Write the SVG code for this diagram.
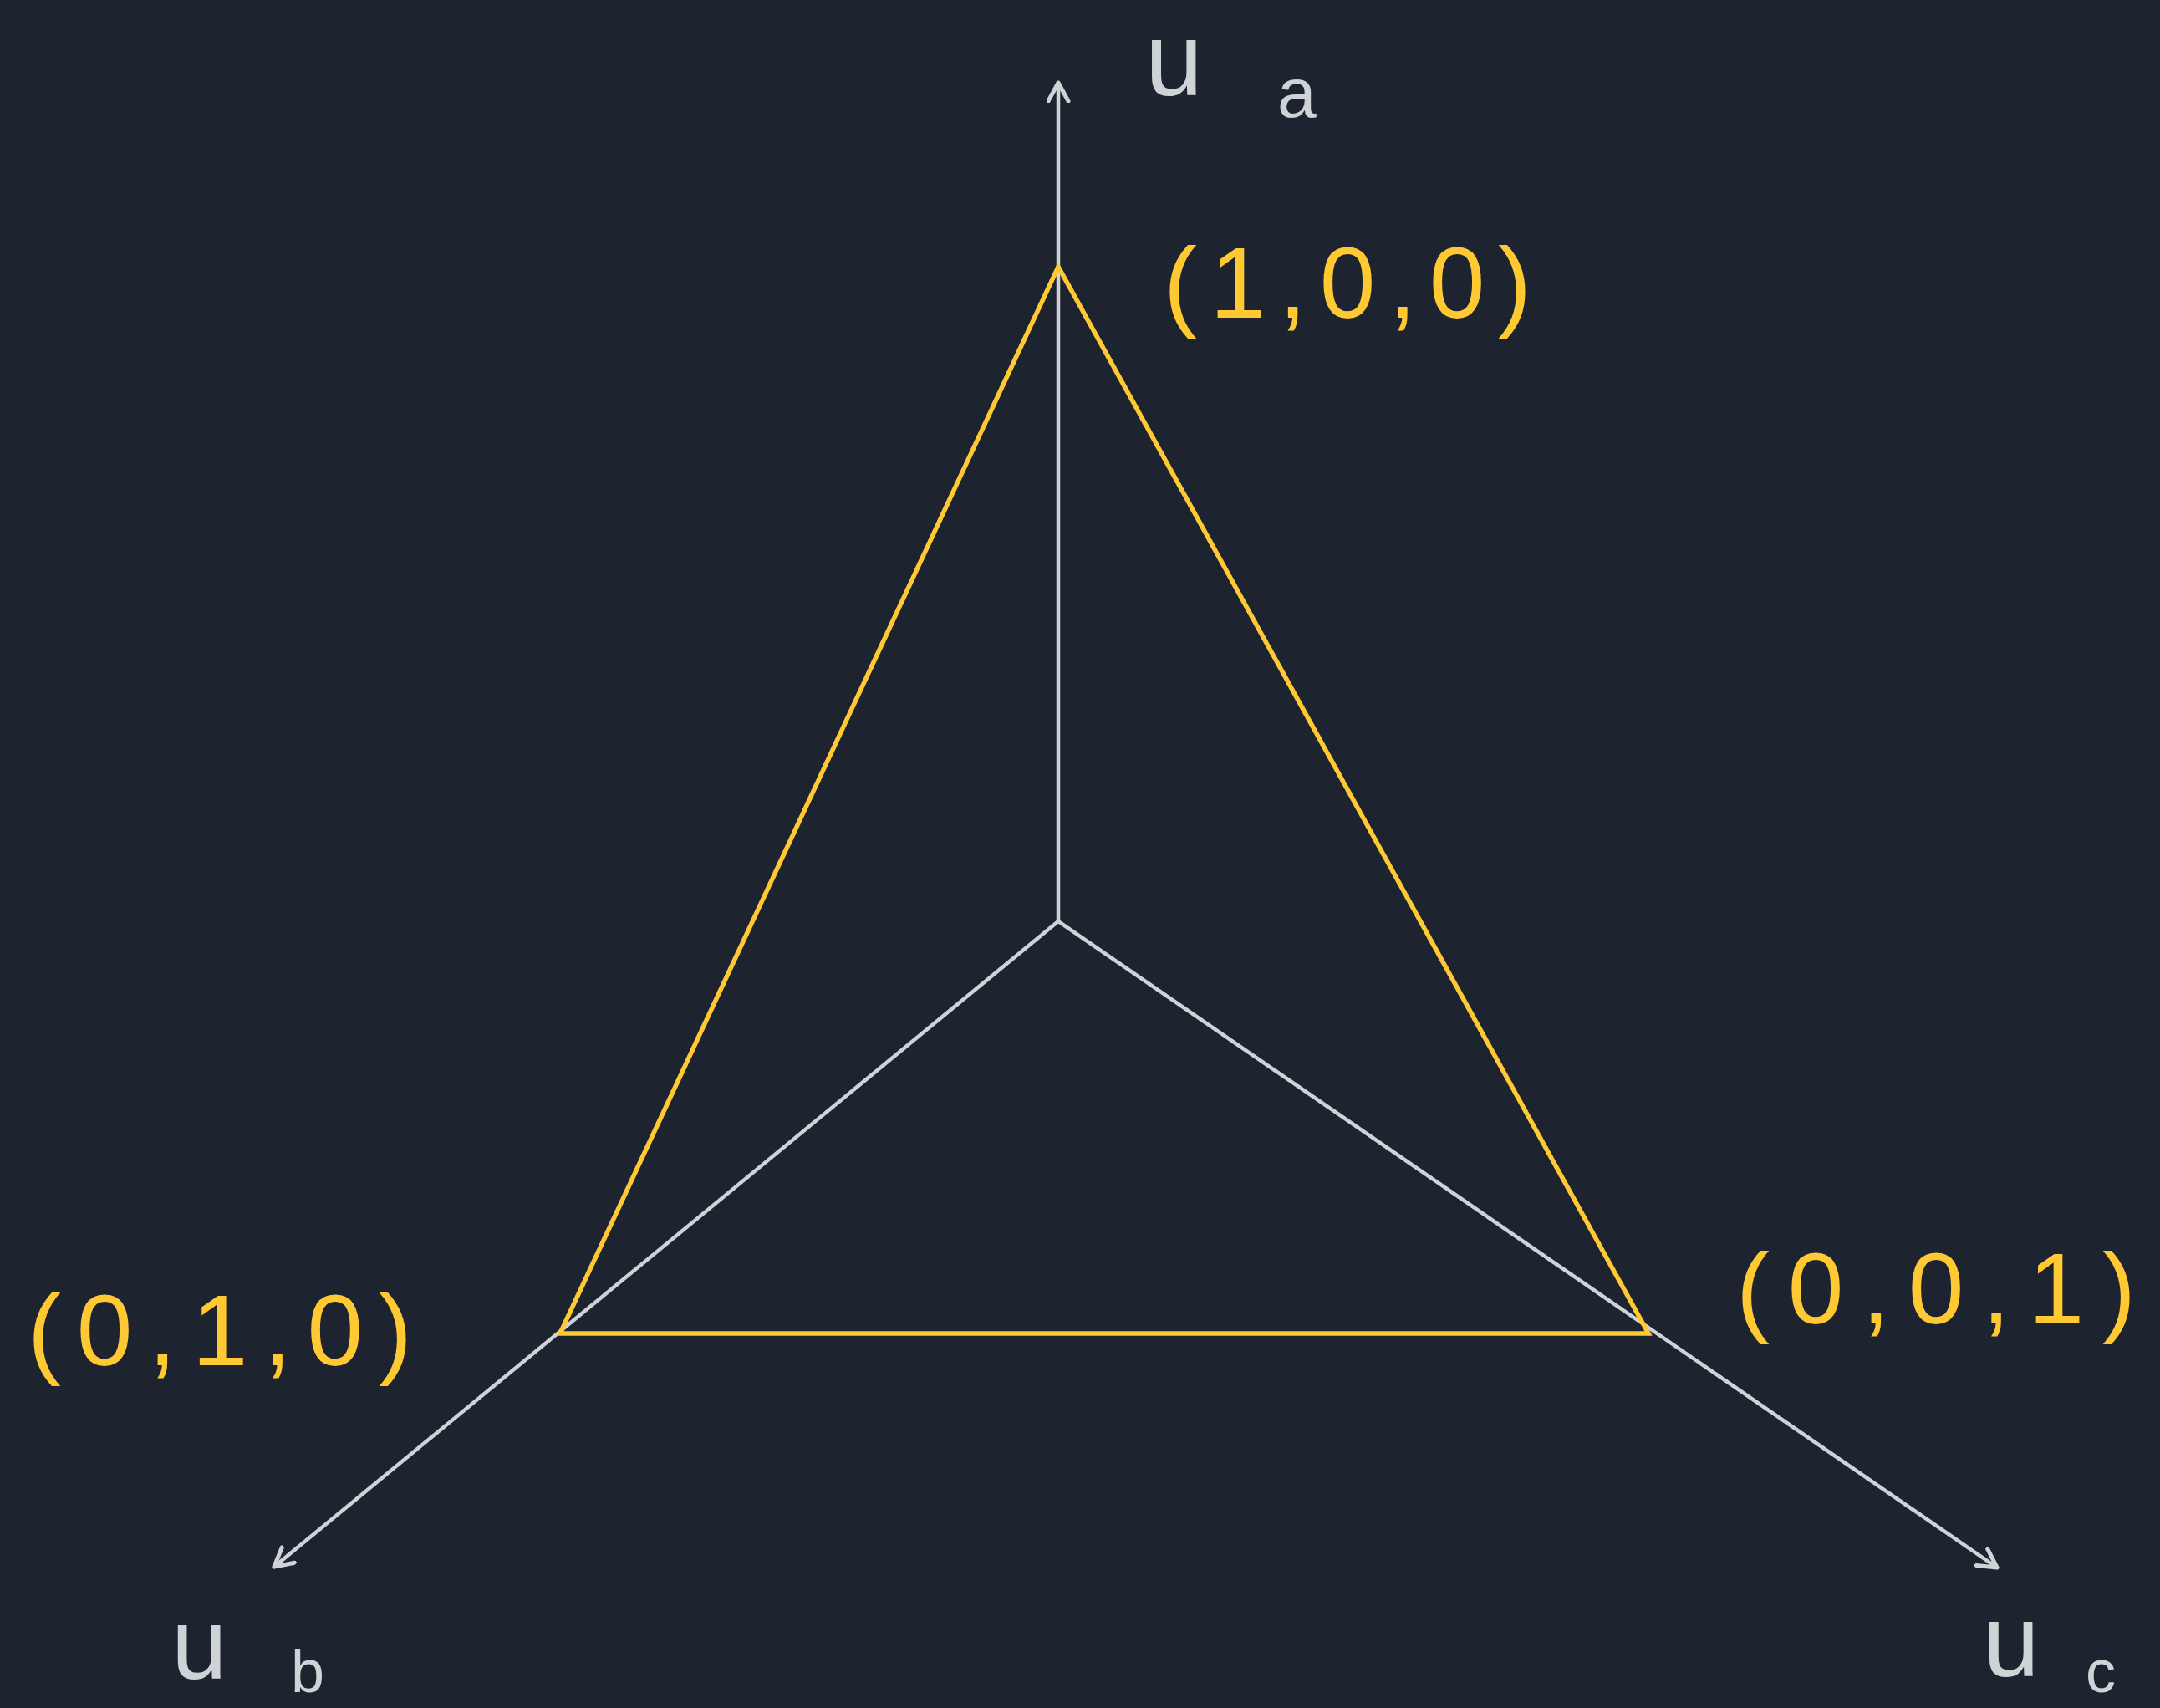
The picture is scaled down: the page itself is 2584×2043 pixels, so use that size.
<svg xmlns="http://www.w3.org/2000/svg" width="2584" height="2043" viewBox="0 0 2584 2043">
<style>
.axis{stroke:#ced4d6;stroke-width:4.5;fill:none;stroke-linecap:round}
.tri{stroke:#ffc933;stroke-width:5.5;fill:none;stroke-linejoin:miter}
.lbl{fill:#ced4d6;font-family:"Liberation Sans",Arial,sans-serif}
.pt{fill:#ffc933;font-family:"Liberation Sans",Arial,sans-serif;font-size:120px}
</style>
<defs>
<marker id="arr" markerUnits="userSpaceOnUse" markerWidth="40" markerHeight="40" refX="24" refY="14" orient="auto">
<path d="M2,2 L24,14 L2,26" fill="none" stroke="#ced4d6" stroke-width="5" stroke-linecap="round" stroke-linejoin="round"/>
</marker>
</defs>
<rect width="2584" height="2043" fill="#1e2330"/>
<g id="connectors">
<path class="axis" d="M1266,1102 L1266,99" marker-end="url(#arr)"/>
<path class="axis" d="M1266,1102 L328,1874" marker-end="url(#arr)"/>
<path class="axis" d="M1266,1102 L2389,1875" marker-end="url(#arr)"/>
</g>
<g id="triangle">
<polygon class="tri" points="1266,319 1972,1595 670,1595"/>
</g>
<g id="label-ua">
<text class="lbl" x="1370" y="114" font-size="124">u</text>
<text class="lbl" x="1528" y="140" font-size="84">a</text>
</g>
<g id="label-ub">
<text class="lbl" x="205" y="2008" font-size="120">u</text>
<text class="lbl" x="348" y="2024" font-size="72">b</text>
</g>
<g id="label-uc">
<text class="lbl" x="2372" y="2005" font-size="122">u</text>
<text class="lbl" x="2495" y="2024" font-size="72">c</text>
</g>
<g id="point-100">
<text class="pt" x="1392" y="380" textLength="440" lengthAdjust="spacing">(1,0,0)</text>
</g>
<g id="point-010">
<text class="pt" x="33" y="1633" textLength="460" lengthAdjust="spacing">(0,1,0)</text>
</g>
<g id="point-001">
<text class="pt" x="2077" y="1583" textLength="478" lengthAdjust="spacing">(0,0,1)</text>
</g>
</svg>
